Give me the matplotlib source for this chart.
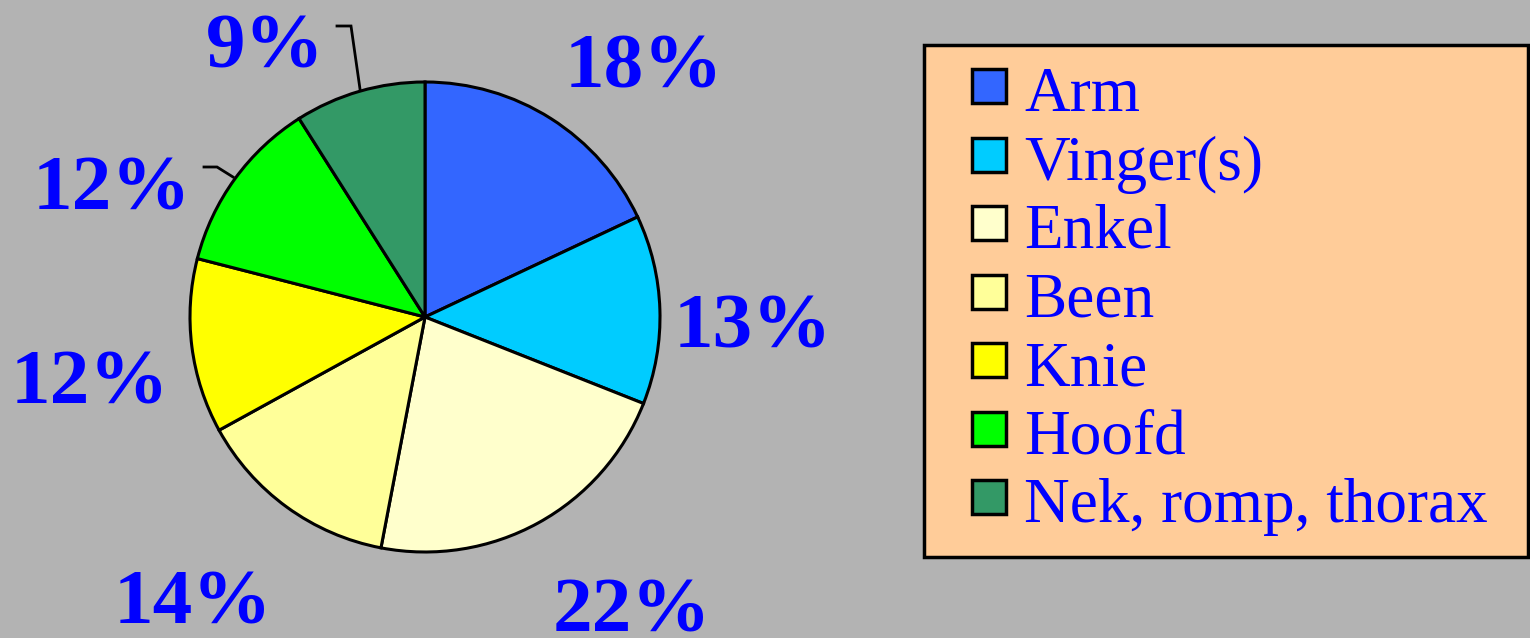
import matplotlib
matplotlib.use('Agg')
import matplotlib.pyplot as plt
from matplotlib.patches import Rectangle

# data
parts = ['Arm', 'Vinger(s)', 'Enkel', 'Been', 'Knie', 'Hoofd', 'Nek, romp, thorax']
shares = [18, 13, 22, 14, 12, 12, 9]
colors = ['#3366FF', '#00CCFF', '#FFFFCC', '#FFFF99', '#FFFF00', '#00FF00', '#339966']

W, H = 1530, 638
bg = '#B3B3B3'
blue = '#0000FF'

fig = plt.figure(figsize=(W / 100, H / 100), dpi=100, facecolor=bg)
ax = fig.add_axes([0, 0, 1, 1])
ax.set_facecolor(bg)

def Y(y):
    # pixel row (top-down) -> data y
    return H - y

# pie
wedges, _ = ax.pie(shares, colors=colors, startangle=90, counterclock=False,
                   center=(425, Y(317)), radius=235,
                   wedgeprops=dict(edgecolor='black', linewidth=2.2))

# percentage labels (x centre, baseline)
label_pos = [(644, 88), (753, 348), (632, 631), (193, 624), (90, 404), (112, 209), (265, 68)]
for s, (lx, ly) in zip(shares, label_pos):
    ax.text(lx, Y(ly), '%d%%' % s, ha='center', va='baseline', fontsize=57,
            fontweight='bold', family='Liberation Serif', color=blue)

# leader lines
ax.plot([337, 351, 360], [Y(26), Y(26), Y(89)], color='black', lw=2, solid_joinstyle='miter')
ax.plot([204, 217, 233], [Y(167), Y(167), Y(177)], color='black', lw=2, solid_joinstyle='miter')

# legend box
ax.add_patch(Rectangle((924, Y(557)), 604, 512, facecolor='#FFCC99',
                       edgecolor='black', lw=2.5, zorder=3))
for i, (name, c) in enumerate(zip(parts, colors)):
    base = 111 + i * 68.5
    ax.add_patch(Rectangle((972, Y(base - 8)), 34, 34, facecolor=c,
                           edgecolor='black', lw=2.5, zorder=4))
    ax.text(1024, Y(base), name, ha='left', va='baseline', fontsize=45.5,
            family='Liberation Serif', color=blue, zorder=5)

ax.set_xlim(0, W)
ax.set_ylim(0, H)
ax.set_aspect('equal')
ax.axis('off')

fig.savefig('out.png', dpi=100, facecolor=bg)
